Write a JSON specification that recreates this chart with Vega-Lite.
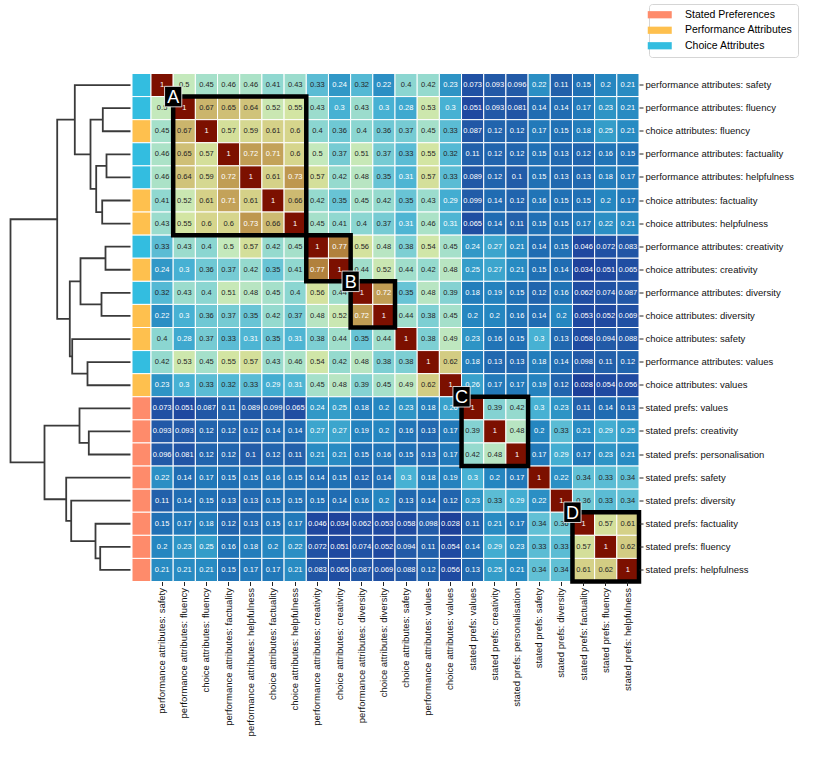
{
"$schema":"https://vega.github.io/schema/vega-lite/v6.json",
"padding":{"left":6,"top":3.5,"right":5,"bottom":5},
"config":{"view":{"stroke":null},"font":"Liberation Sans"},
"spacing":0,
"bounds":"flush",
"resolve":{"scale":{"x":"independent","y":"independent","color":"independent"},"legend":{"color":"independent"}},
"datasets":{
"labels":[
{"k":0,"name":"performance attributes: safety","g":"Choice Attributes"},
{"k":1,"name":"performance attributes: fluency","g":"Choice Attributes"},
{"k":2,"name":"choice attributes: fluency","g":"Performance Attributes"},
{"k":3,"name":"performance attributes: factuality","g":"Choice Attributes"},
{"k":4,"name":"performance attributes: helpfulness","g":"Choice Attributes"},
{"k":5,"name":"choice attributes: factuality","g":"Performance Attributes"},
{"k":6,"name":"choice attributes: helpfulness","g":"Performance Attributes"},
{"k":7,"name":"performance attributes: creativity","g":"Choice Attributes"},
{"k":8,"name":"choice attributes: creativity","g":"Performance Attributes"},
{"k":9,"name":"performance attributes: diversity","g":"Choice Attributes"},
{"k":10,"name":"choice attributes: diversity","g":"Performance Attributes"},
{"k":11,"name":"choice attributes: safety","g":"Performance Attributes"},
{"k":12,"name":"performance attributes: values","g":"Choice Attributes"},
{"k":13,"name":"choice attributes: values","g":"Performance Attributes"},
{"k":14,"name":"stated prefs: values","g":"Stated Preferences"},
{"k":15,"name":"stated prefs: creativity","g":"Stated Preferences"},
{"k":16,"name":"stated prefs: personalisation","g":"Stated Preferences"},
{"k":17,"name":"stated prefs: safety","g":"Stated Preferences"},
{"k":18,"name":"stated prefs: diversity","g":"Stated Preferences"},
{"k":19,"name":"stated prefs: factuality","g":"Stated Preferences"},
{"k":20,"name":"stated prefs: fluency","g":"Stated Preferences"},
{"k":21,"name":"stated prefs: helpfulness","g":"Stated Preferences"}
],
"boxes":[
{"a":"performance attributes: fluency","b":"choice attributes: helpfulness","t":"A"},
{"a":"performance attributes: creativity","b":"choice attributes: creativity","t":""},
{"a":"performance attributes: diversity","b":"choice attributes: diversity","t":"B"},
{"a":"stated prefs: values","b":"stated prefs: personalisation","t":"C"},
{"a":"stated prefs: factuality","b":"stated prefs: helpfulness","t":"D"}
],
"tree":[
{"m":1,"o":0,"d":0,"y":0},{"m":1,"o":1,"d":55.7,"y":0},{"m":1,"o":2,"d":55.7,"y":3},{"m":1,"o":3,"d":40,"y":3},
{"m":2,"o":0,"d":27.7,"y":1.5},{"m":2,"o":1,"d":40,"y":1.5},{"m":2,"o":2,"d":40,"y":4.5},{"m":2,"o":3,"d":34.3,"y":4.5},
{"m":3,"o":0,"d":0,"y":1},{"m":3,"o":1,"d":27.7,"y":1},{"m":3,"o":2,"d":27.7,"y":2},{"m":3,"o":3,"d":0,"y":2},
{"m":4,"o":0,"d":0,"y":3},{"m":4,"o":1,"d":24,"y":3},{"m":4,"o":2,"d":24,"y":4},{"m":4,"o":3,"d":0,"y":4},
{"m":5,"o":0,"d":0,"y":5},{"m":5,"o":1,"d":28.3,"y":5},{"m":5,"o":2,"d":28.3,"y":6},{"m":5,"o":3,"d":0,"y":6},
{"m":6,"o":0,"d":24,"y":3.5},{"m":6,"o":1,"d":34.3,"y":3.5},{"m":6,"o":2,"d":34.3,"y":5.5},{"m":6,"o":3,"d":28.3,"y":5.5},
{"m":7,"o":0,"d":0,"y":7},{"m":7,"o":1,"d":25,"y":7},{"m":7,"o":2,"d":25,"y":8},{"m":7,"o":3,"d":0,"y":8},
{"m":8,"o":0,"d":0,"y":9},{"m":8,"o":1,"d":29,"y":9},{"m":8,"o":2,"d":29,"y":10},{"m":8,"o":3,"d":0,"y":10},
{"m":9,"o":0,"d":25,"y":7.5},{"m":9,"o":1,"d":50,"y":7.5},{"m":9,"o":2,"d":50,"y":9.5},{"m":9,"o":3,"d":29,"y":9.5},
{"m":10,"o":0,"d":0,"y":12},{"m":10,"o":1,"d":43,"y":12},{"m":10,"o":2,"d":43,"y":13},{"m":10,"o":3,"d":0,"y":13},
{"m":11,"o":0,"d":0,"y":11},{"m":11,"o":1,"d":58.3,"y":11},{"m":11,"o":2,"d":58.3,"y":12.5},{"m":11,"o":3,"d":43,"y":12.5},
{"m":12,"o":0,"d":50,"y":8.5},{"m":12,"o":1,"d":60.7,"y":8.5},{"m":12,"o":2,"d":60.7,"y":11.75},{"m":12,"o":3,"d":58.3,"y":11.75},
{"m":13,"o":0,"d":55.7,"y":1.5},{"m":13,"o":1,"d":73.3,"y":1.5},{"m":13,"o":2,"d":73.3,"y":10.125},{"m":13,"o":3,"d":60.7,"y":10.125},
{"m":14,"o":0,"d":0,"y":15},{"m":14,"o":1,"d":41.7,"y":15},{"m":14,"o":2,"d":41.7,"y":16},{"m":14,"o":3,"d":0,"y":16},
{"m":15,"o":0,"d":0,"y":14},{"m":15,"o":1,"d":51,"y":14},{"m":15,"o":2,"d":51,"y":15.5},{"m":15,"o":3,"d":41.7,"y":15.5},
{"m":16,"o":0,"d":0,"y":20},{"m":16,"o":1,"d":30.3,"y":20},{"m":16,"o":2,"d":30.3,"y":21},{"m":16,"o":3,"d":0,"y":21},
{"m":17,"o":0,"d":0,"y":19},{"m":17,"o":1,"d":35,"y":19},{"m":17,"o":2,"d":35,"y":20.5},{"m":17,"o":3,"d":30.3,"y":20.5},
{"m":18,"o":0,"d":0,"y":18},{"m":18,"o":1,"d":59.3,"y":18},{"m":18,"o":2,"d":59.3,"y":19.75},{"m":18,"o":3,"d":35,"y":19.75},
{"m":19,"o":0,"d":0,"y":17},{"m":19,"o":1,"d":64.3,"y":17},{"m":19,"o":2,"d":64.3,"y":18.875},{"m":19,"o":3,"d":59.3,"y":18.875},
{"m":20,"o":0,"d":51,"y":14.75},{"m":20,"o":1,"d":86,"y":14.75},{"m":20,"o":2,"d":86,"y":17.9375},{"m":20,"o":3,"d":64.3,"y":17.9375},
{"m":21,"o":0,"d":73.3,"y":5.8125},{"m":21,"o":1,"d":120,"y":5.8125},{"m":21,"o":2,"d":120,"y":16.34375},{"m":21,"o":3,"d":86,"y":16.34375}
],
"cells":[
{"i":0,"j":0,"v":1},{"i":0,"j":1,"v":0.5},{"i":0,"j":2,"v":0.45},{"i":0,"j":3,"v":0.46},{"i":0,"j":4,"v":0.46},{"i":0,"j":5,"v":0.41},{"i":0,"j":6,"v":0.43},{"i":0,"j":7,"v":0.33},{"i":0,"j":8,"v":0.24},{"i":0,"j":9,"v":0.32},{"i":0,"j":10,"v":0.22},{"i":0,"j":11,"v":0.4},{"i":0,"j":12,"v":0.42},{"i":0,"j":13,"v":0.23},{"i":0,"j":14,"v":0.073},{"i":0,"j":15,"v":0.093},{"i":0,"j":16,"v":0.096},{"i":0,"j":17,"v":0.22},{"i":0,"j":18,"v":0.11},{"i":0,"j":19,"v":0.15},{"i":0,"j":20,"v":0.2},{"i":0,"j":21,"v":0.21},
{"i":1,"j":0,"v":0.5},{"i":1,"j":1,"v":1},{"i":1,"j":2,"v":0.67},{"i":1,"j":3,"v":0.65},{"i":1,"j":4,"v":0.64},{"i":1,"j":5,"v":0.52},{"i":1,"j":6,"v":0.55},{"i":1,"j":7,"v":0.43},{"i":1,"j":8,"v":0.3},{"i":1,"j":9,"v":0.43},{"i":1,"j":10,"v":0.3},{"i":1,"j":11,"v":0.28},{"i":1,"j":12,"v":0.53},{"i":1,"j":13,"v":0.3},{"i":1,"j":14,"v":0.051},{"i":1,"j":15,"v":0.093},{"i":1,"j":16,"v":0.081},{"i":1,"j":17,"v":0.14},{"i":1,"j":18,"v":0.14},{"i":1,"j":19,"v":0.17},{"i":1,"j":20,"v":0.23},{"i":1,"j":21,"v":0.21},
{"i":2,"j":0,"v":0.45},{"i":2,"j":1,"v":0.67},{"i":2,"j":2,"v":1},{"i":2,"j":3,"v":0.57},{"i":2,"j":4,"v":0.59},{"i":2,"j":5,"v":0.61},{"i":2,"j":6,"v":0.6},{"i":2,"j":7,"v":0.4},{"i":2,"j":8,"v":0.36},{"i":2,"j":9,"v":0.4},{"i":2,"j":10,"v":0.36},{"i":2,"j":11,"v":0.37},{"i":2,"j":12,"v":0.45},{"i":2,"j":13,"v":0.33},{"i":2,"j":14,"v":0.087},{"i":2,"j":15,"v":0.12},{"i":2,"j":16,"v":0.12},{"i":2,"j":17,"v":0.17},{"i":2,"j":18,"v":0.15},{"i":2,"j":19,"v":0.18},{"i":2,"j":20,"v":0.25},{"i":2,"j":21,"v":0.21},
{"i":3,"j":0,"v":0.46},{"i":3,"j":1,"v":0.65},{"i":3,"j":2,"v":0.57},{"i":3,"j":3,"v":1},{"i":3,"j":4,"v":0.72},{"i":3,"j":5,"v":0.71},{"i":3,"j":6,"v":0.6},{"i":3,"j":7,"v":0.5},{"i":3,"j":8,"v":0.37},{"i":3,"j":9,"v":0.51},{"i":3,"j":10,"v":0.37},{"i":3,"j":11,"v":0.33},{"i":3,"j":12,"v":0.55},{"i":3,"j":13,"v":0.32},{"i":3,"j":14,"v":0.11},{"i":3,"j":15,"v":0.12},{"i":3,"j":16,"v":0.12},{"i":3,"j":17,"v":0.15},{"i":3,"j":18,"v":0.13},{"i":3,"j":19,"v":0.12},{"i":3,"j":20,"v":0.16},{"i":3,"j":21,"v":0.15},
{"i":4,"j":0,"v":0.46},{"i":4,"j":1,"v":0.64},{"i":4,"j":2,"v":0.59},{"i":4,"j":3,"v":0.72},{"i":4,"j":4,"v":1},{"i":4,"j":5,"v":0.61},{"i":4,"j":6,"v":0.73},{"i":4,"j":7,"v":0.57},{"i":4,"j":8,"v":0.42},{"i":4,"j":9,"v":0.48},{"i":4,"j":10,"v":0.35},{"i":4,"j":11,"v":0.31},{"i":4,"j":12,"v":0.57},{"i":4,"j":13,"v":0.33},{"i":4,"j":14,"v":0.089},{"i":4,"j":15,"v":0.12},{"i":4,"j":16,"v":0.1},{"i":4,"j":17,"v":0.15},{"i":4,"j":18,"v":0.13},{"i":4,"j":19,"v":0.13},{"i":4,"j":20,"v":0.18},{"i":4,"j":21,"v":0.17},
{"i":5,"j":0,"v":0.41},{"i":5,"j":1,"v":0.52},{"i":5,"j":2,"v":0.61},{"i":5,"j":3,"v":0.71},{"i":5,"j":4,"v":0.61},{"i":5,"j":5,"v":1},{"i":5,"j":6,"v":0.66},{"i":5,"j":7,"v":0.42},{"i":5,"j":8,"v":0.35},{"i":5,"j":9,"v":0.45},{"i":5,"j":10,"v":0.42},{"i":5,"j":11,"v":0.35},{"i":5,"j":12,"v":0.43},{"i":5,"j":13,"v":0.29},{"i":5,"j":14,"v":0.099},{"i":5,"j":15,"v":0.14},{"i":5,"j":16,"v":0.12},{"i":5,"j":17,"v":0.16},{"i":5,"j":18,"v":0.15},{"i":5,"j":19,"v":0.15},{"i":5,"j":20,"v":0.2},{"i":5,"j":21,"v":0.17},
{"i":6,"j":0,"v":0.43},{"i":6,"j":1,"v":0.55},{"i":6,"j":2,"v":0.6},{"i":6,"j":3,"v":0.6},{"i":6,"j":4,"v":0.73},{"i":6,"j":5,"v":0.66},{"i":6,"j":6,"v":1},{"i":6,"j":7,"v":0.45},{"i":6,"j":8,"v":0.41},{"i":6,"j":9,"v":0.4},{"i":6,"j":10,"v":0.37},{"i":6,"j":11,"v":0.31},{"i":6,"j":12,"v":0.46},{"i":6,"j":13,"v":0.31},{"i":6,"j":14,"v":0.065},{"i":6,"j":15,"v":0.14},{"i":6,"j":16,"v":0.11},{"i":6,"j":17,"v":0.15},{"i":6,"j":18,"v":0.15},{"i":6,"j":19,"v":0.17},{"i":6,"j":20,"v":0.22},{"i":6,"j":21,"v":0.21},
{"i":7,"j":0,"v":0.33},{"i":7,"j":1,"v":0.43},{"i":7,"j":2,"v":0.4},{"i":7,"j":3,"v":0.5},{"i":7,"j":4,"v":0.57},{"i":7,"j":5,"v":0.42},{"i":7,"j":6,"v":0.45},{"i":7,"j":7,"v":1},{"i":7,"j":8,"v":0.77},{"i":7,"j":9,"v":0.56},{"i":7,"j":10,"v":0.48},{"i":7,"j":11,"v":0.38},{"i":7,"j":12,"v":0.54},{"i":7,"j":13,"v":0.45},{"i":7,"j":14,"v":0.24},{"i":7,"j":15,"v":0.27},{"i":7,"j":16,"v":0.21},{"i":7,"j":17,"v":0.14},{"i":7,"j":18,"v":0.15},{"i":7,"j":19,"v":0.046},{"i":7,"j":20,"v":0.072},{"i":7,"j":21,"v":0.083},
{"i":8,"j":0,"v":0.24},{"i":8,"j":1,"v":0.3},{"i":8,"j":2,"v":0.36},{"i":8,"j":3,"v":0.37},{"i":8,"j":4,"v":0.42},{"i":8,"j":5,"v":0.35},{"i":8,"j":6,"v":0.41},{"i":8,"j":7,"v":0.77},{"i":8,"j":8,"v":1},{"i":8,"j":9,"v":0.44},{"i":8,"j":10,"v":0.52},{"i":8,"j":11,"v":0.44},{"i":8,"j":12,"v":0.42},{"i":8,"j":13,"v":0.48},{"i":8,"j":14,"v":0.25},{"i":8,"j":15,"v":0.27},{"i":8,"j":16,"v":0.21},{"i":8,"j":17,"v":0.15},{"i":8,"j":18,"v":0.14},{"i":8,"j":19,"v":0.034},{"i":8,"j":20,"v":0.051},{"i":8,"j":21,"v":0.065},
{"i":9,"j":0,"v":0.32},{"i":9,"j":1,"v":0.43},{"i":9,"j":2,"v":0.4},{"i":9,"j":3,"v":0.51},{"i":9,"j":4,"v":0.48},{"i":9,"j":5,"v":0.45},{"i":9,"j":6,"v":0.4},{"i":9,"j":7,"v":0.56},{"i":9,"j":8,"v":0.44},{"i":9,"j":9,"v":1},{"i":9,"j":10,"v":0.72},{"i":9,"j":11,"v":0.35},{"i":9,"j":12,"v":0.48},{"i":9,"j":13,"v":0.39},{"i":9,"j":14,"v":0.18},{"i":9,"j":15,"v":0.19},{"i":9,"j":16,"v":0.15},{"i":9,"j":17,"v":0.12},{"i":9,"j":18,"v":0.16},{"i":9,"j":19,"v":0.062},{"i":9,"j":20,"v":0.074},{"i":9,"j":21,"v":0.087},
{"i":10,"j":0,"v":0.22},{"i":10,"j":1,"v":0.3},{"i":10,"j":2,"v":0.36},{"i":10,"j":3,"v":0.37},{"i":10,"j":4,"v":0.35},{"i":10,"j":5,"v":0.42},{"i":10,"j":6,"v":0.37},{"i":10,"j":7,"v":0.48},{"i":10,"j":8,"v":0.52},{"i":10,"j":9,"v":0.72},{"i":10,"j":10,"v":1},{"i":10,"j":11,"v":0.44},{"i":10,"j":12,"v":0.38},{"i":10,"j":13,"v":0.45},{"i":10,"j":14,"v":0.2},{"i":10,"j":15,"v":0.2},{"i":10,"j":16,"v":0.16},{"i":10,"j":17,"v":0.14},{"i":10,"j":18,"v":0.2},{"i":10,"j":19,"v":0.053},{"i":10,"j":20,"v":0.052},{"i":10,"j":21,"v":0.069},
{"i":11,"j":0,"v":0.4},{"i":11,"j":1,"v":0.28},{"i":11,"j":2,"v":0.37},{"i":11,"j":3,"v":0.33},{"i":11,"j":4,"v":0.31},{"i":11,"j":5,"v":0.35},{"i":11,"j":6,"v":0.31},{"i":11,"j":7,"v":0.38},{"i":11,"j":8,"v":0.44},{"i":11,"j":9,"v":0.35},{"i":11,"j":10,"v":0.44},{"i":11,"j":11,"v":1},{"i":11,"j":12,"v":0.38},{"i":11,"j":13,"v":0.49},{"i":11,"j":14,"v":0.23},{"i":11,"j":15,"v":0.16},{"i":11,"j":16,"v":0.15},{"i":11,"j":17,"v":0.3},{"i":11,"j":18,"v":0.13},{"i":11,"j":19,"v":0.058},{"i":11,"j":20,"v":0.094},{"i":11,"j":21,"v":0.088},
{"i":12,"j":0,"v":0.42},{"i":12,"j":1,"v":0.53},{"i":12,"j":2,"v":0.45},{"i":12,"j":3,"v":0.55},{"i":12,"j":4,"v":0.57},{"i":12,"j":5,"v":0.43},{"i":12,"j":6,"v":0.46},{"i":12,"j":7,"v":0.54},{"i":12,"j":8,"v":0.42},{"i":12,"j":9,"v":0.48},{"i":12,"j":10,"v":0.38},{"i":12,"j":11,"v":0.38},{"i":12,"j":12,"v":1},{"i":12,"j":13,"v":0.62},{"i":12,"j":14,"v":0.18},{"i":12,"j":15,"v":0.13},{"i":12,"j":16,"v":0.13},{"i":12,"j":17,"v":0.18},{"i":12,"j":18,"v":0.14},{"i":12,"j":19,"v":0.098},{"i":12,"j":20,"v":0.11},{"i":12,"j":21,"v":0.12},
{"i":13,"j":0,"v":0.23},{"i":13,"j":1,"v":0.3},{"i":13,"j":2,"v":0.33},{"i":13,"j":3,"v":0.32},{"i":13,"j":4,"v":0.33},{"i":13,"j":5,"v":0.29},{"i":13,"j":6,"v":0.31},{"i":13,"j":7,"v":0.45},{"i":13,"j":8,"v":0.48},{"i":13,"j":9,"v":0.39},{"i":13,"j":10,"v":0.45},{"i":13,"j":11,"v":0.49},{"i":13,"j":12,"v":0.62},{"i":13,"j":13,"v":1},{"i":13,"j":14,"v":0.26},{"i":13,"j":15,"v":0.17},{"i":13,"j":16,"v":0.17},{"i":13,"j":17,"v":0.19},{"i":13,"j":18,"v":0.12},{"i":13,"j":19,"v":0.028},{"i":13,"j":20,"v":0.054},{"i":13,"j":21,"v":0.056},
{"i":14,"j":0,"v":0.073},{"i":14,"j":1,"v":0.051},{"i":14,"j":2,"v":0.087},{"i":14,"j":3,"v":0.11},{"i":14,"j":4,"v":0.089},{"i":14,"j":5,"v":0.099},{"i":14,"j":6,"v":0.065},{"i":14,"j":7,"v":0.24},{"i":14,"j":8,"v":0.25},{"i":14,"j":9,"v":0.18},{"i":14,"j":10,"v":0.2},{"i":14,"j":11,"v":0.23},{"i":14,"j":12,"v":0.18},{"i":14,"j":13,"v":0.26},{"i":14,"j":14,"v":1},{"i":14,"j":15,"v":0.39},{"i":14,"j":16,"v":0.42},{"i":14,"j":17,"v":0.3},{"i":14,"j":18,"v":0.23},{"i":14,"j":19,"v":0.11},{"i":14,"j":20,"v":0.14},{"i":14,"j":21,"v":0.13},
{"i":15,"j":0,"v":0.093},{"i":15,"j":1,"v":0.093},{"i":15,"j":2,"v":0.12},{"i":15,"j":3,"v":0.12},{"i":15,"j":4,"v":0.12},{"i":15,"j":5,"v":0.14},{"i":15,"j":6,"v":0.14},{"i":15,"j":7,"v":0.27},{"i":15,"j":8,"v":0.27},{"i":15,"j":9,"v":0.19},{"i":15,"j":10,"v":0.2},{"i":15,"j":11,"v":0.16},{"i":15,"j":12,"v":0.13},{"i":15,"j":13,"v":0.17},{"i":15,"j":14,"v":0.39},{"i":15,"j":15,"v":1},{"i":15,"j":16,"v":0.48},{"i":15,"j":17,"v":0.2},{"i":15,"j":18,"v":0.33},{"i":15,"j":19,"v":0.21},{"i":15,"j":20,"v":0.29},{"i":15,"j":21,"v":0.25},
{"i":16,"j":0,"v":0.096},{"i":16,"j":1,"v":0.081},{"i":16,"j":2,"v":0.12},{"i":16,"j":3,"v":0.12},{"i":16,"j":4,"v":0.1},{"i":16,"j":5,"v":0.12},{"i":16,"j":6,"v":0.11},{"i":16,"j":7,"v":0.21},{"i":16,"j":8,"v":0.21},{"i":16,"j":9,"v":0.15},{"i":16,"j":10,"v":0.16},{"i":16,"j":11,"v":0.15},{"i":16,"j":12,"v":0.13},{"i":16,"j":13,"v":0.17},{"i":16,"j":14,"v":0.42},{"i":16,"j":15,"v":0.48},{"i":16,"j":16,"v":1},{"i":16,"j":17,"v":0.17},{"i":16,"j":18,"v":0.29},{"i":16,"j":19,"v":0.17},{"i":16,"j":20,"v":0.23},{"i":16,"j":21,"v":0.21},
{"i":17,"j":0,"v":0.22},{"i":17,"j":1,"v":0.14},{"i":17,"j":2,"v":0.17},{"i":17,"j":3,"v":0.15},{"i":17,"j":4,"v":0.15},{"i":17,"j":5,"v":0.16},{"i":17,"j":6,"v":0.15},{"i":17,"j":7,"v":0.14},{"i":17,"j":8,"v":0.15},{"i":17,"j":9,"v":0.12},{"i":17,"j":10,"v":0.14},{"i":17,"j":11,"v":0.3},{"i":17,"j":12,"v":0.18},{"i":17,"j":13,"v":0.19},{"i":17,"j":14,"v":0.3},{"i":17,"j":15,"v":0.2},{"i":17,"j":16,"v":0.17},{"i":17,"j":17,"v":1},{"i":17,"j":18,"v":0.22},{"i":17,"j":19,"v":0.34},{"i":17,"j":20,"v":0.33},{"i":17,"j":21,"v":0.34},
{"i":18,"j":0,"v":0.11},{"i":18,"j":1,"v":0.14},{"i":18,"j":2,"v":0.15},{"i":18,"j":3,"v":0.13},{"i":18,"j":4,"v":0.13},{"i":18,"j":5,"v":0.15},{"i":18,"j":6,"v":0.15},{"i":18,"j":7,"v":0.15},{"i":18,"j":8,"v":0.14},{"i":18,"j":9,"v":0.16},{"i":18,"j":10,"v":0.2},{"i":18,"j":11,"v":0.13},{"i":18,"j":12,"v":0.14},{"i":18,"j":13,"v":0.12},{"i":18,"j":14,"v":0.23},{"i":18,"j":15,"v":0.33},{"i":18,"j":16,"v":0.29},{"i":18,"j":17,"v":0.22},{"i":18,"j":18,"v":1},{"i":18,"j":19,"v":0.36},{"i":18,"j":20,"v":0.33},{"i":18,"j":21,"v":0.34},
{"i":19,"j":0,"v":0.15},{"i":19,"j":1,"v":0.17},{"i":19,"j":2,"v":0.18},{"i":19,"j":3,"v":0.12},{"i":19,"j":4,"v":0.13},{"i":19,"j":5,"v":0.15},{"i":19,"j":6,"v":0.17},{"i":19,"j":7,"v":0.046},{"i":19,"j":8,"v":0.034},{"i":19,"j":9,"v":0.062},{"i":19,"j":10,"v":0.053},{"i":19,"j":11,"v":0.058},{"i":19,"j":12,"v":0.098},{"i":19,"j":13,"v":0.028},{"i":19,"j":14,"v":0.11},{"i":19,"j":15,"v":0.21},{"i":19,"j":16,"v":0.17},{"i":19,"j":17,"v":0.34},{"i":19,"j":18,"v":0.36},{"i":19,"j":19,"v":1},{"i":19,"j":20,"v":0.57},{"i":19,"j":21,"v":0.61},
{"i":20,"j":0,"v":0.2},{"i":20,"j":1,"v":0.23},{"i":20,"j":2,"v":0.25},{"i":20,"j":3,"v":0.16},{"i":20,"j":4,"v":0.18},{"i":20,"j":5,"v":0.2},{"i":20,"j":6,"v":0.22},{"i":20,"j":7,"v":0.072},{"i":20,"j":8,"v":0.051},{"i":20,"j":9,"v":0.074},{"i":20,"j":10,"v":0.052},{"i":20,"j":11,"v":0.094},{"i":20,"j":12,"v":0.11},{"i":20,"j":13,"v":0.054},{"i":20,"j":14,"v":0.14},{"i":20,"j":15,"v":0.29},{"i":20,"j":16,"v":0.23},{"i":20,"j":17,"v":0.33},{"i":20,"j":18,"v":0.33},{"i":20,"j":19,"v":0.57},{"i":20,"j":20,"v":1},{"i":20,"j":21,"v":0.62},
{"i":21,"j":0,"v":0.21},{"i":21,"j":1,"v":0.21},{"i":21,"j":2,"v":0.21},{"i":21,"j":3,"v":0.15},{"i":21,"j":4,"v":0.17},{"i":21,"j":5,"v":0.17},{"i":21,"j":6,"v":0.21},{"i":21,"j":7,"v":0.083},{"i":21,"j":8,"v":0.065},{"i":21,"j":9,"v":0.087},{"i":21,"j":10,"v":0.069},{"i":21,"j":11,"v":0.088},{"i":21,"j":12,"v":0.12},{"i":21,"j":13,"v":0.056},{"i":21,"j":14,"v":0.13},{"i":21,"j":15,"v":0.25},{"i":21,"j":16,"v":0.21},{"i":21,"j":17,"v":0.34},{"i":21,"j":18,"v":0.34},{"i":21,"j":19,"v":0.61},{"i":21,"j":20,"v":0.62},{"i":21,"j":21,"v":1}
]
},
"hconcat":[
{"width":122,"height":508,"data":{"name":"tree"},
 "mark":{"type":"line","color":"#3a3a3a","strokeWidth":1.8,"strokeJoin":"miter"},
 "encoding":{
  "x":{"field":"d","type":"quantitative","scale":{"domain":[-1.5,120.5],"reverse":true,"nice":false,"zero":false},"axis":null},
  "y":{"field":"y","type":"quantitative","scale":{"domain":[-0.5,21.5],"reverse":true,"nice":false,"zero":false},"axis":null},
  "detail":{"field":"m","type":"nominal"},
  "order":{"field":"o","type":"quantitative"}}},
{"width":19,"height":508,"data":{"name":"labels"},
 "mark":{"type":"rect","stroke":"white","strokeWidth":1},
 "encoding":{
  "y":{"field":"name","type":"nominal","scale":{"type":"band","domain":["performance attributes: safety","performance attributes: fluency","choice attributes: fluency","performance attributes: factuality","performance attributes: helpfulness","choice attributes: factuality","choice attributes: helpfulness","performance attributes: creativity","choice attributes: creativity","performance attributes: diversity","choice attributes: diversity","choice attributes: safety","performance attributes: values","choice attributes: values","stated prefs: values","stated prefs: creativity","stated prefs: personalisation","stated prefs: safety","stated prefs: diversity","stated prefs: factuality","stated prefs: fluency","stated prefs: helpfulness"],"paddingInner":0,"paddingOuter":0},"axis":null},
  "color":{"field":"g","type":"nominal","scale":{"domain":["Stated Preferences","Performance Attributes","Choice Attributes"],"range":["#fe8b6b","#fec04e","#33bde0"]},
   "legend":{"orient":"none","legendX":517,"legendY":-69.5,"title":null,"padding":5.5,"strokeColor":"#d5d5d5","fillColor":"white","cornerRadius":3,"labelFontSize":10.5,"labelFont":"Liberation Sans","labelColor":"black","symbolType":"M-3,-0.9H3V0.9H-3Z","symbolSize":64,"symbolStrokeWidth":0,"symbolOpacity":1,"labelOffset":20,"rowPadding":4.5}}}},
{"width":488,"height":508,
 "layer":[
  {"data":{"name":"cells"},
   "transform":[
    {"lookup":"i","from":{"data":{"name":"labels"},"key":"k","fields":["name"]},"as":["yn"]},
    {"lookup":"j","from":{"data":{"name":"labels"},"key":"k","fields":["name"]},"as":["xn"]}
   ],
   "layer":[
    {"mark":{"type":"rect","stroke":"white","strokeWidth":1},
     "encoding":{
      "x":{"field":"xn","type":"nominal","scale":{"type":"band","domain":["performance attributes: safety","performance attributes: fluency","choice attributes: fluency","performance attributes: factuality","performance attributes: helpfulness","choice attributes: factuality","choice attributes: helpfulness","performance attributes: creativity","choice attributes: creativity","performance attributes: diversity","choice attributes: diversity","choice attributes: safety","performance attributes: values","choice attributes: values","stated prefs: values","stated prefs: creativity","stated prefs: personalisation","stated prefs: safety","stated prefs: diversity","stated prefs: factuality","stated prefs: fluency","stated prefs: helpfulness"],"paddingInner":0,"paddingOuter":0},
       "axis":{"orient":"bottom","title":null,"labelAngle":-90,"labelFontSize":9.5,"labelFont":"Liberation Sans","labelColor":"#111111","tickColor":"#222222","tickSize":4,"tickWidth":1,"domain":false,"labelPadding":2,"labelLimit":300}},
      "y":{"field":"yn","type":"nominal","scale":{"type":"band","domain":["performance attributes: safety","performance attributes: fluency","choice attributes: fluency","performance attributes: factuality","performance attributes: helpfulness","choice attributes: factuality","choice attributes: helpfulness","performance attributes: creativity","choice attributes: creativity","performance attributes: diversity","choice attributes: diversity","choice attributes: safety","performance attributes: values","choice attributes: values","stated prefs: values","stated prefs: creativity","stated prefs: personalisation","stated prefs: safety","stated prefs: diversity","stated prefs: factuality","stated prefs: fluency","stated prefs: helpfulness"],"paddingInner":0,"paddingOuter":0},
       "axis":{"orient":"right","title":null,"labelFontSize":9.5,"labelFont":"Liberation Sans","labelColor":"#111111","tickColor":"#222222","tickSize":4,"tickWidth":1,"domain":false,"labelPadding":2,"labelLimit":300}},
      "color":{"field":"v","type":"quantitative","scale":{"type":"linear","domain":[0,0.05,0.1,0.15,0.2,0.25,0.3,0.35,0.4,0.45,0.5,0.55,0.6,0.65,0.7,0.75,0.8,0.9,1],"range":["#1b3691","#1f48a0","#225ca8","#2070b4","#2586c0","#349dc9","#47b1d3","#68c4d5","#8bd6d1","#a5e0ca","#c4e9bc","#d3e5a3","#d6d58c","#cfbf76","#c6a75e","#b88d45","#a76f30","#8d3c14","#7c1000"],"interpolate":"rgb","clamp":true},"legend":null}}},
    {"mark":{"type":"text","fontSize":7.5,"font":"Liberation Sans"},
     "encoding":{
      "x":{"field":"xn","type":"nominal"},
      "y":{"field":"yn","type":"nominal"},
      "text":{"field":"v","type":"quantitative","format":".2~g"},
      "color":{"condition":{"test":"datum.v < 0.315 || datum.v > 0.7","value":"white"},"value":"#262626"}}}
   ]},
  {"data":{"name":"boxes"},
   "layer":[
    {"mark":{"type":"rect","filled":false,"stroke":"black","strokeWidth":4.5},
     "encoding":{
      "x":{"field":"a","type":"nominal","bandPosition":0},
      "x2":{"field":"b","bandPosition":1},
      "y":{"field":"a","type":"nominal","bandPosition":0},
      "y2":{"field":"b","bandPosition":1}}},
    {"transform":[{"filter":"datum.t != ''"}],
     "mark":{"type":"point","shape":"M-0.84,-1H0.84V1H-0.84Z","size":420,"filled":true,"fill":"black","stroke":"white","strokeWidth":0.8,"opacity":1},
     "encoding":{
      "x":{"field":"a","type":"nominal","bandPosition":0},
      "y":{"field":"a","type":"nominal","bandPosition":0}}},
    {"transform":[{"filter":"datum.t != ''"}],
     "mark":{"type":"text","color":"white","fontSize":18,"font":"Liberation Sans","baseline":"middle","align":"center","dy":1.5},
     "encoding":{
      "x":{"field":"a","type":"nominal","bandPosition":0},
      "y":{"field":"a","type":"nominal","bandPosition":0},
      "text":{"field":"t","type":"nominal"}}}
   ]}
 ]}
]
}
